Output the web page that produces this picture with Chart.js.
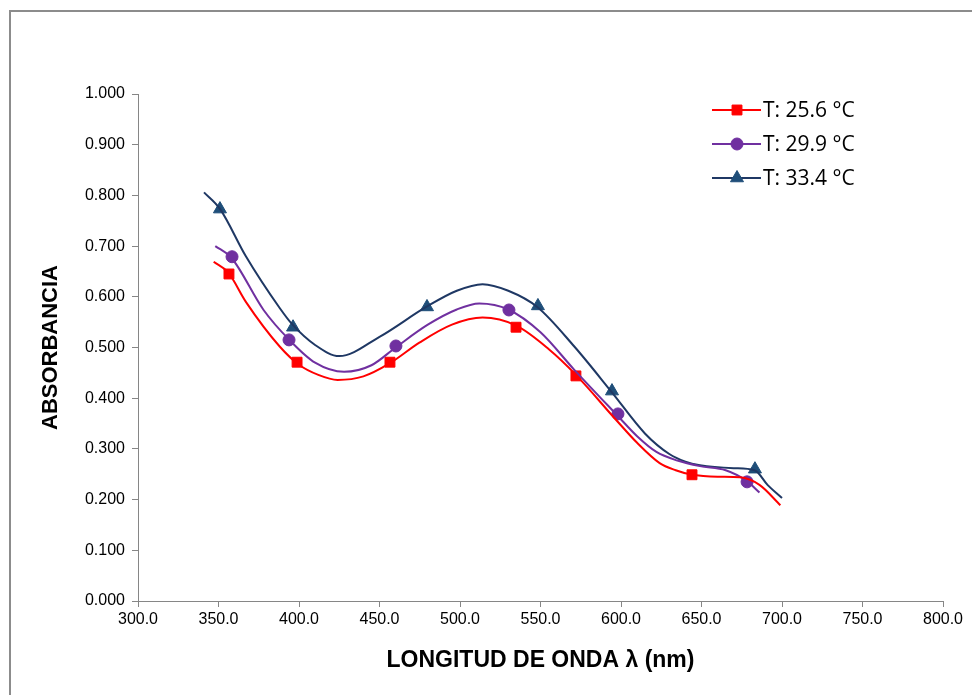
<!DOCTYPE html>
<html>
<head>
<meta charset="utf-8">
<script src="https://cdn.jsdelivr.net/npm/chart.js@4"></script>
<style>
  html, body { margin: 0; padding: 0; background: #fff; }
  #wrap { position: absolute; left: 0; top: 0; width: 972px; height: 695px; }
</style>
</head>
<body>
<div id="wrap"><canvas id="absChart"></canvas></div>
<script>
const seriesLabels = ['T: 25.6 °C', 'T: 29.9 °C', 'T: 33.4 °C'];

// measured points (markers)
const markX256 = [356.5, 398.8, 456.5, 534.8, 572.0, 644.1];
const markY256 = [0.645, 0.471, 0.471, 0.540, 0.444, 0.249];
const markX299 = [358.4, 393.8, 460.2, 530.4, 598.1, 678.3];
const markY299 = [0.679, 0.515, 0.503, 0.574, 0.369, 0.235];
const markX334 = [350.9, 396.3, 479.5, 548.4, 594.4, 683.2];
const markY334 = [0.773, 0.540, 0.580, 0.582, 0.414, 0.260];

// trend curves
const curveX256 = [347, 356, 367, 388, 400, 412, 424, 440, 456, 475, 495, 514, 535, 555, 572, 597, 610, 624, 634, 643, 660, 674, 686, 699];
const curveY256 = [0.669, 0.648, 0.590, 0.502, 0.466, 0.446, 0.436, 0.443, 0.468, 0.510, 0.545, 0.559, 0.543, 0.497, 0.446, 0.357, 0.312, 0.272, 0.258, 0.250, 0.245, 0.244, 0.229, 0.189];
const curveX299 = [348, 358, 378, 394, 410, 428, 445, 460, 480, 498, 512, 530, 550, 571, 598, 610, 622, 635, 649, 665, 678, 686];
const curveY299 = [0.700, 0.677, 0.574, 0.515, 0.470, 0.452, 0.465, 0.500, 0.545, 0.575, 0.587, 0.575, 0.530, 0.456, 0.365, 0.325, 0.294, 0.277, 0.266, 0.258, 0.237, 0.214];
const curveX334 = [341, 351, 367, 388, 396, 410, 425, 450, 479, 498, 514, 530, 548, 571, 594, 615, 630, 640, 649, 670, 683, 691, 700];
const curveY334 = [0.806, 0.773, 0.680, 0.578, 0.545, 0.505, 0.483, 0.521, 0.580, 0.612, 0.625, 0.612, 0.580, 0.502, 0.413, 0.330, 0.290, 0.275, 0.268, 0.262, 0.258, 0.229, 0.203];

const lineColors = ['#FF0000', '#7030A0', '#1F3864'];
const markColors = ['#FF0000', '#7030A0', '#1F4E79'];
const markStyles = ['rect', 'circle', 'triangle'];
const markRadius = [7, 6, 7.5];

const zip = (xs, ys) => xs.map((x, i) => ({ x: x, y: ys[i] }));
const curves = [zip(curveX256, curveY256), zip(curveX299, curveY299), zip(curveX334, curveY334)];
const marks = [zip(markX256, markY256), zip(markX299, markY299), zip(markX334, markY334)];

const datasets = [];
curves.forEach((pts, i) => {
    datasets.push({
        label: seriesLabels[i],
        data: pts,
        showLine: true,
        borderColor: lineColors[i],
        borderWidth: 2,
        pointRadius: 0,
        cubicInterpolationMode: 'monotone',
        fill: false
    });
});
marks.forEach((pts, i) => {
    datasets.push({
        label: seriesLabels[i] + ' pts',
        data: pts,
        showLine: false,
        pointStyle: markStyles[i],
        pointRadius: markRadius[i],
        pointBackgroundColor: markColors[i],
        pointBorderColor: markColors[i],
        pointBorderWidth: 1
    });
});

const framePlugin = {
    id: 'frame',
    beforeDraw(chart) {
        const ctx = chart.ctx;
        ctx.save();
        ctx.fillStyle = '#fff';
        ctx.fillRect(0, 0, chart.width, chart.height);
        ctx.strokeStyle = '#8c8c8c';
        ctx.lineWidth = 2;
        ctx.beginPath();
        ctx.moveTo(10, chart.height);
        ctx.lineTo(10, 11);
        ctx.lineTo(chart.width, 11);
        ctx.stroke();
        ctx.restore();
    }
};

const legendPlugin = {
    id: 'lineLegend',
    afterDraw(chart) {
        const ctx = chart.ctx;
        ctx.save();
        ctx.font = '21px "Open Sans", "Noto Sans", sans-serif';
        ctx.textBaseline = 'middle';
        seriesLabels.forEach((lab, i) => {
            const y = 110 + i * 34;
            ctx.strokeStyle = lineColors[i];
            ctx.lineWidth = 2;
            ctx.beginPath();
            ctx.moveTo(712, y);
            ctx.lineTo(761, y);
            ctx.stroke();
            ctx.fillStyle = markColors[i];
            ctx.strokeStyle = markColors[i];
            ctx.lineWidth = 1;
            Chart.helpers.drawPoint(ctx, { pointStyle: markStyles[i], radius: markRadius[i], rotation: 0, borderWidth: 1 }, 737, y);
            ctx.fillStyle = '#000';
            ctx.fillText(lab, 763, y + 1);
        });
        ctx.restore();
    }
};

const axisColor = '#868686';

new Chart(document.getElementById('absChart'), {
    type: 'scatter',
    data: { datasets: datasets },
    options: {
        responsive: true,
        maintainAspectRatio: false,
        animation: false,
        layout: { padding: { left: 0, top: 94, right: 29, bottom: 0 } },
        plugins: {
            legend: { display: false },
            tooltip: { enabled: false }
        },
        scales: {
            x: {
                type: 'linear',
                min: 300,
                max: 800,
                afterFit: s => { s.height = 94; },
                border: { display: true, color: axisColor, width: 1 },
                grid: { display: true, drawOnChartArea: false, drawTicks: true, tickLength: 6, color: axisColor },
                ticks: {
                    stepSize: 50,
                    padding: 3,
                    color: '#000',
                    font: { family: '"Liberation Sans", Arial, sans-serif', size: 16 },
                    callback: v => Number(v).toFixed(1)
                },
                title: {
                    display: true,
                    text: 'LONGITUD DE ONDA λ (nm)',
                    color: '#000',
                    font: { family: '"Liberation Sans", Arial, sans-serif', size: 23, weight: 'bold' },
                    padding: { top: 0, bottom: 21 }
                }
            },
            y: {
                min: 0,
                max: 1,
                afterFit: s => { s.width = 138; },
                border: { display: true, color: axisColor, width: 1 },
                grid: { display: true, drawOnChartArea: false, drawTicks: true, tickLength: 6, color: axisColor },
                ticks: {
                    stepSize: 0.1,
                    padding: 7,
                    color: '#000',
                    font: { family: '"Liberation Sans", Arial, sans-serif', size: 16 },
                    callback: v => Number(v).toFixed(3)
                },
                title: {
                    display: true,
                    text: 'ABSORBANCIA',
                    color: '#000',
                    font: { family: '"Liberation Sans", Arial, sans-serif', size: 22, weight: 'bold' },
                    padding: { top: 38, bottom: 0 }
                }
            }
        }
    },
    plugins: [framePlugin, legendPlugin]
});
</script>
</body>
</html>
